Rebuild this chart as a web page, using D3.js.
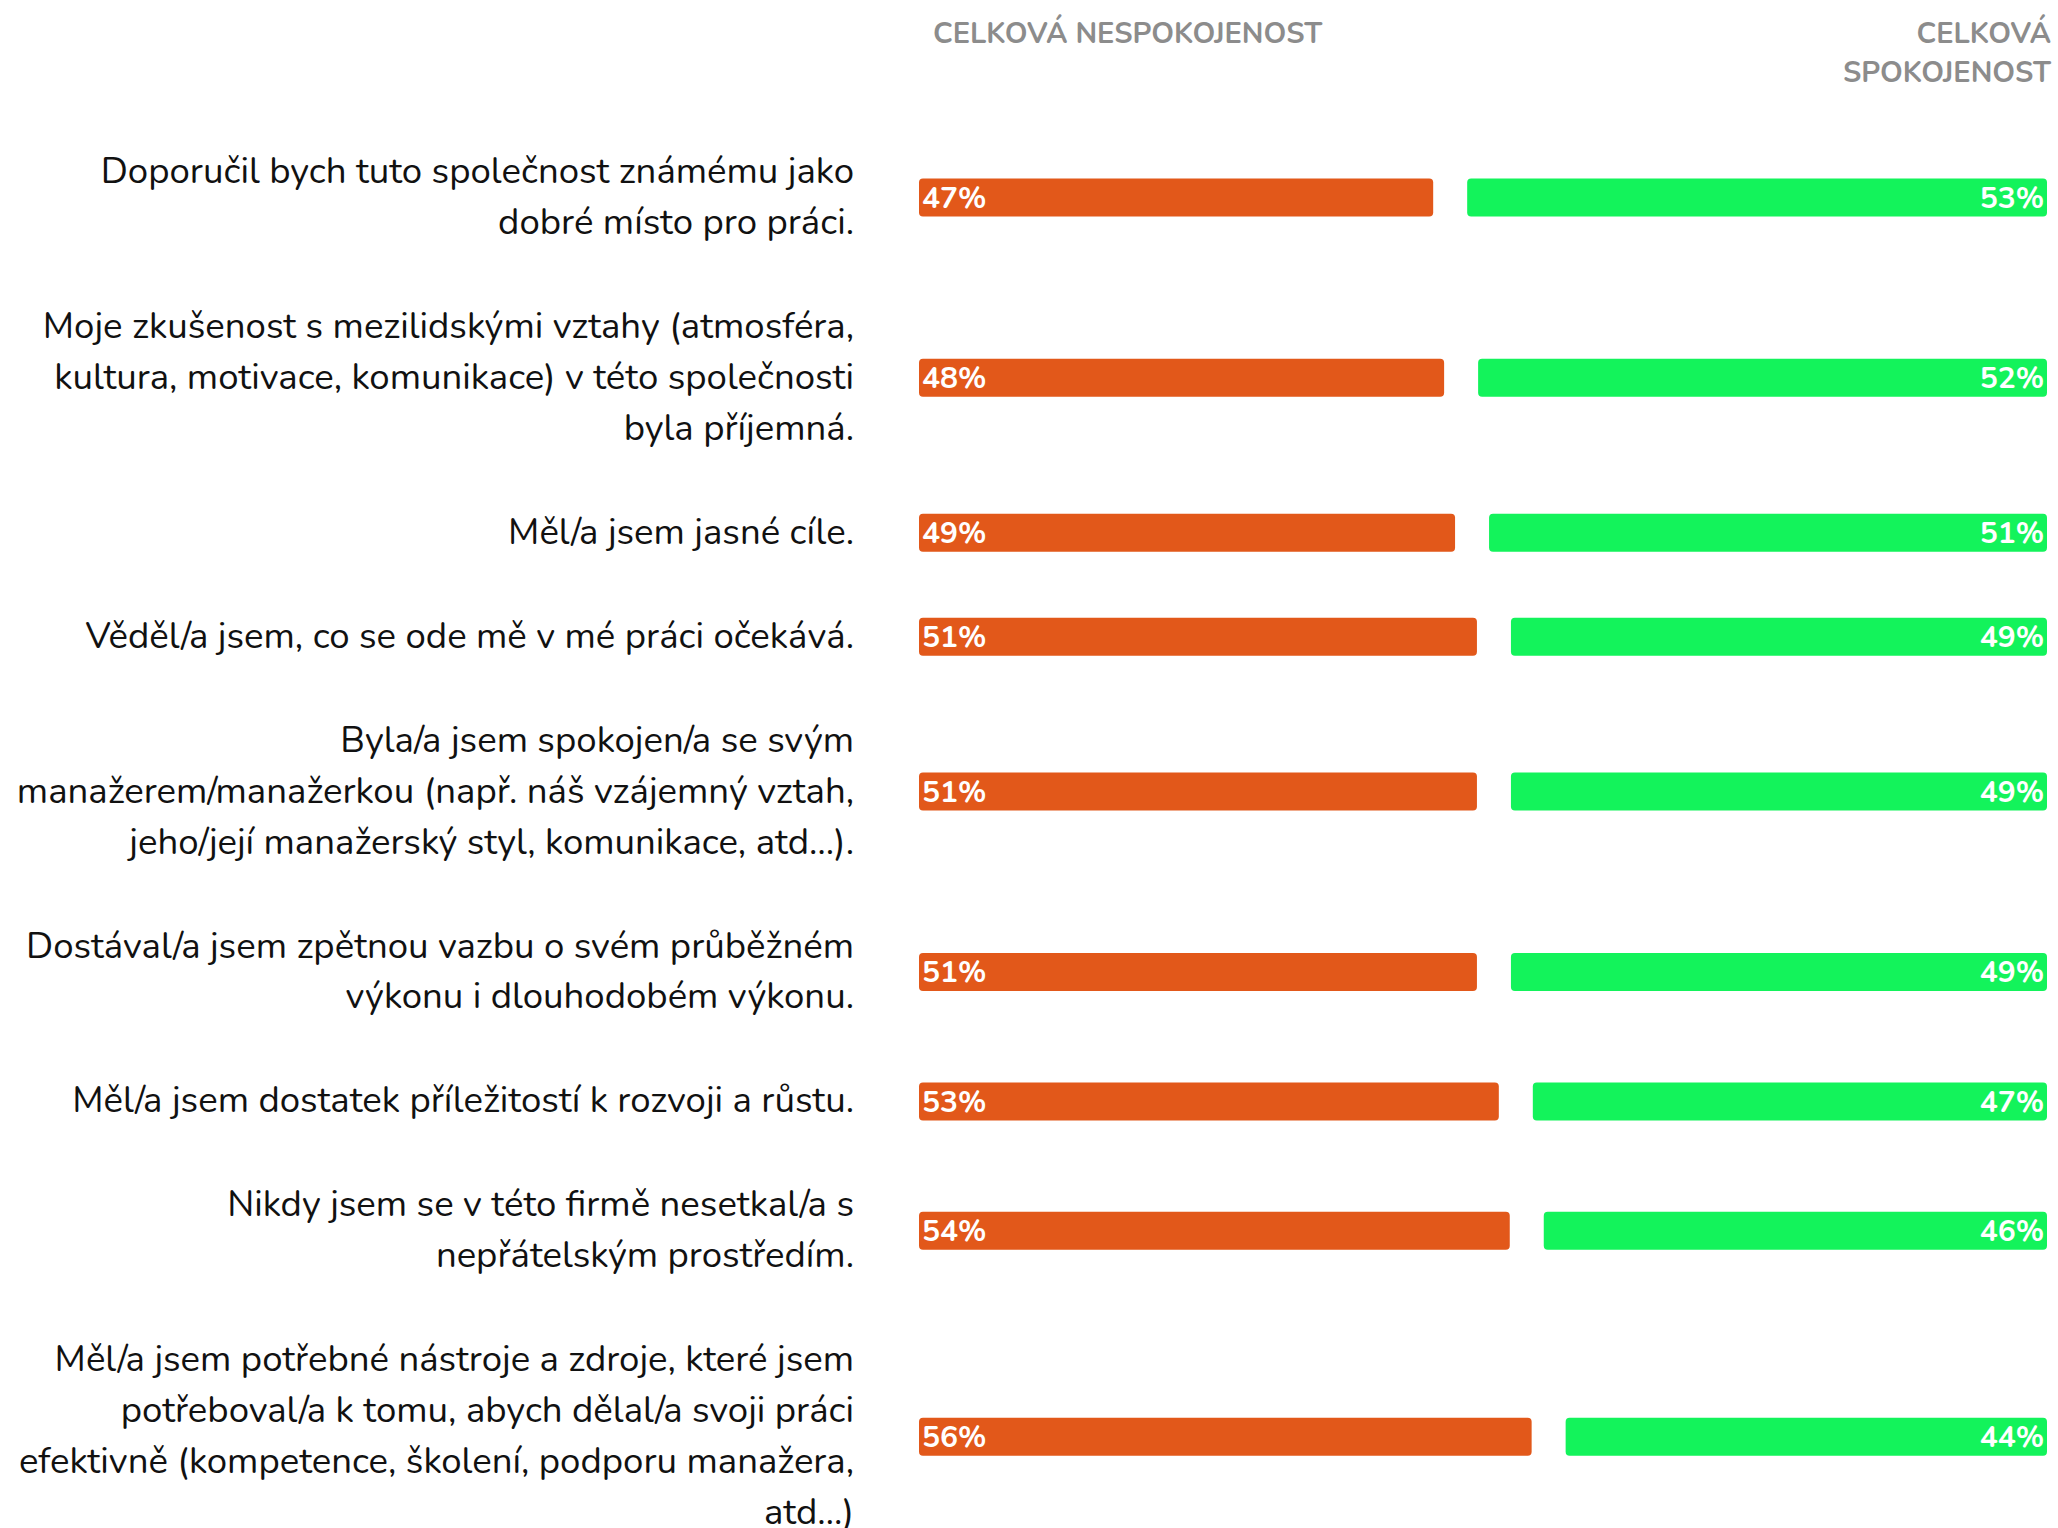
<!DOCTYPE html>
<html>
<head>
<meta charset="utf-8">
<script src="https://cdn.jsdelivr.net/npm/d3@7"></script>
<style>
  html, body { margin: 0; padding: 0; background: #ffffff; }
  svg { display: block; }
</style>
</head>
<body>
<svg id="chart" width="2058" height="1528"></svg>
<script>
// Survey statements (pre-wrapped lines)
const statements = [
  ["Doporučil bych tuto společnost známému jako", "dobré místo pro práci."],
  ["Moje zkušenost s mezilidskými vztahy (atmosféra,", "kultura, motivace, komunikace) v této společnosti", "byla příjemná."],
  ["Měl/a jsem jasné cíle."],
  ["Věděl/a jsem, co se ode mě v mé práci očekává."],
  ["Byla/a jsem spokojen/a se svým", "manažerem/manažerkou (např. náš vzájemný vztah,", "jeho/její manažerský styl, komunikace, atd…)."],
  ["Dostával/a jsem zpětnou vazbu o svém průběžném", "výkonu i dlouhodobém výkonu."],
  ["Měl/a jsem dostatek příležitostí k rozvoji a růstu."],
  ["Nikdy jsem se v této firmě nesetkal/a s", "nepřátelským prostředím."],
  ["Měl/a jsem potřebné nástroje a zdroje, které jsem", "potřeboval/a k tomu, abych dělal/a svoji práci", "efektivně (kompetence, školení, podporu manažera,", "atd…)"]
];

// Share of respondents (%)
const dissatisfied = [47, 48, 49, 51, 51, 51, 53, 54, 56];
const satisfied    = [53, 52, 51, 49, 49, 49, 47, 46, 44];

// Column headers
const headerLeft  = ["CELKOVÁ NESPOKOJENOST"];
const headerRight = ["CELKOVÁ", "SPOKOJENOST"];

const FONT = "Nunito, Lato, 'Open Sans', sans-serif";
const orange = "#e2581a";
const green  = "#13f35b";

const svg = d3.select("#chart");

// Layout
const labelRight = 854;
const barLeft = 919;
const barRight = 2047;
const barH = 38;
const lineH = 50.9;
const rowPad = 53.1;
const topY = 120;

const x = d3.scaleLinear().domain([0, 100]).range([0, 1094]);

// Row heights depend on the number of wrapped label lines
const rowHeights = statements.map(s => s.length * lineH + rowPad);
const rowTops = [topY, ...d3.cumsum(rowHeights).map(v => topY + v)].slice(0, statements.length);
const idx = d3.range(statements.length);
const yCenter = d3.scaleOrdinal().domain(idx).range(idx.map(i => rowTops[i] + rowHeights[i] / 2));

// Headers
svg.append("text")
  .attr("x", 933).attr("y", 43)
  .attr("font-family", FONT).attr("font-weight", 700).attr("font-size", 29)
  .attr("fill", "#8c8c8c")
  .text(headerLeft[0]);

svg.append("g").selectAll("text").data(headerRight).join("text")
  .attr("x", 2051).attr("y", (d, i) => 43 + i * 39)
  .attr("text-anchor", "end")
  .attr("font-family", FONT).attr("font-weight", 700).attr("font-size", 29)
  .attr("fill", "#8c8c8c")
  .text(d => d);

// Rows
const rows = svg.append("g").selectAll("g").data(idx).join("g");

// Statement labels
rows.append("text")
  .attr("text-anchor", "end")
  .attr("font-family", FONT).attr("font-size", 36.6)
  .attr("fill", "#111111")
  .each(function(i) {
    const lines = statements[i];
    const n = lines.length;
    d3.select(this).selectAll("tspan").data(lines).join("tspan")
      .attr("x", labelRight)
      .attr("y", (d, k) => yCenter(i) + (k - (n - 1) / 2) * lineH + 11)
      .text(d => d);
  });

// Dissatisfied bars
rows.append("rect")
  .attr("x", barLeft)
  .attr("y", i => yCenter(i) - barH / 2)
  .attr("width", i => x(dissatisfied[i]))
  .attr("height", barH)
  .attr("rx", 4).attr("ry", 4)
  .attr("fill", orange);

// Satisfied bars
rows.append("rect")
  .attr("x", i => barRight - x(satisfied[i]))
  .attr("y", i => yCenter(i) - barH / 2)
  .attr("width", i => x(satisfied[i]))
  .attr("height", barH)
  .attr("rx", 4).attr("ry", 4)
  .attr("fill", green);

// Value labels
rows.append("text")
  .attr("x", barLeft + 3)
  .attr("y", i => yCenter(i) + 10.5)
  .attr("font-family", FONT).attr("font-weight", 700).attr("font-size", 30)
  .attr("fill", "#ffffff")
  .text(i => dissatisfied[i] + "%");

rows.append("text")
  .attr("x", barRight - 3)
  .attr("y", i => yCenter(i) + 10.5)
  .attr("text-anchor", "end")
  .attr("font-family", FONT).attr("font-weight", 700).attr("font-size", 30)
  .attr("fill", "#ffffff")
  .text(i => satisfied[i] + "%");
</script>
</body>
</html>
